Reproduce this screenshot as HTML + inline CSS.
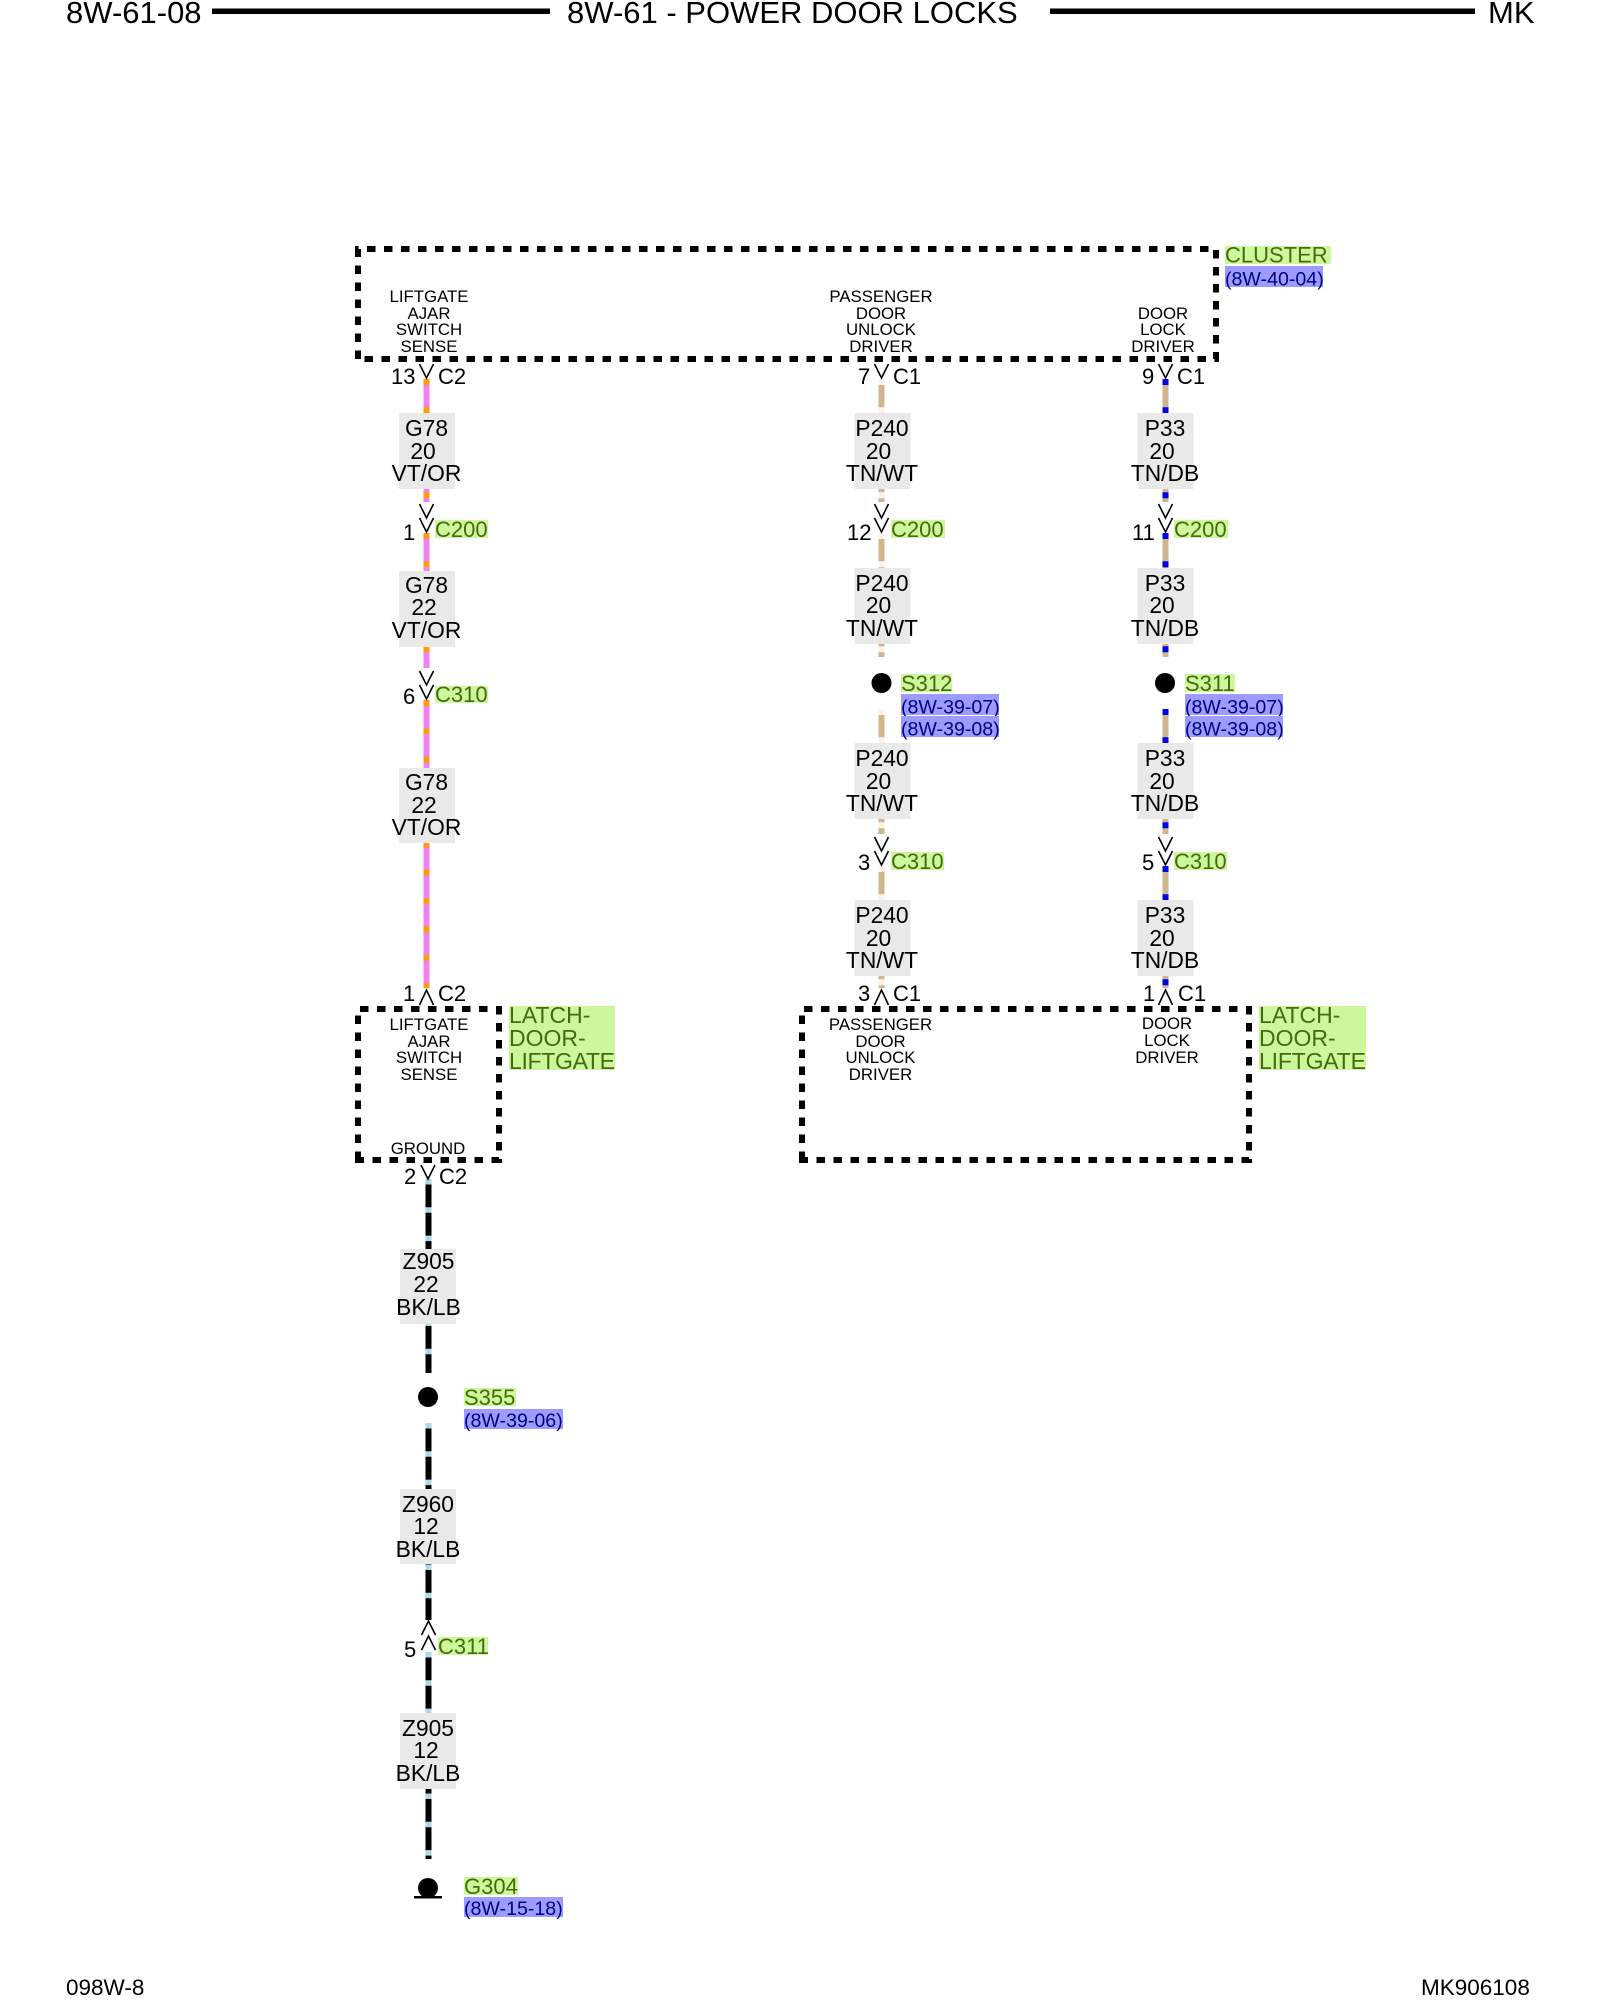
<!DOCTYPE html>
<html lang="en">
<head>
<meta charset="utf-8">
<title>8W-61 - POWER DOOR LOCKS</title>
<style>
html,body{margin:0;padding:0;background:#fff;}
svg{display:block;}
text{font-family:"Liberation Sans",Arial,sans-serif;fill:#000;}
.b{fill:#e9e9e9;}
.w{font-size:22.8px;text-anchor:middle;}
.c{font-size:16.8px;text-anchor:middle;}
.n{font-size:22px;}
.h{font-size:31px;}
.f{font-size:22.5px;}
.g{fill:#ccf79b;}
.r{fill:#9c9cff;}
.gt{font-size:22px;fill:#47690f;}
.lt{font-size:23px;fill:#47690f;}
.rt{font-size:19.6px;fill:#000088;}
.d{fill:none;stroke:#000;stroke-width:6;stroke-dasharray:8.5 8.5;}
.ch{fill:none;stroke:#000;stroke-width:1.6;}
.vt{stroke:#ee82ee;stroke-width:6;}
.vto{stroke:#ff9a10;stroke-width:6;stroke-dasharray:6 22.3;}
.tn{stroke:#d2b48c;stroke-width:6;}
.tnw{stroke:#f8f3ec;stroke-width:6;stroke-dasharray:6 22.3;}
.tnb{stroke:#0000ee;stroke-width:6;stroke-dasharray:6 22.3;}
.bk{stroke:#000;stroke-width:6;}
.bkl{stroke:#add8e6;stroke-width:6;stroke-dasharray:5.5 22.8;}
</style>
</head>
<body>
<svg xmlns="http://www.w3.org/2000/svg" width="1600" height="2000" viewBox="0 0 1600 2000">
<rect width="1600" height="2000" fill="#fff"/>

<!-- header -->
<text class="h" x="66" y="23">8W-61-08</text>
<rect x="212" y="8.5" width="338" height="5.5" fill="#000"/>
<text class="h" x="567" y="23">8W-61 - POWER DOOR LOCKS</text>
<rect x="1050" y="8.5" width="425" height="5.5" fill="#000"/>
<text class="h" x="1488" y="23">MK</text>

<!-- footer -->
<text class="f" x="66" y="1995">098W-8</text>
<text class="f" x="1421" y="1995">MK906108</text>

<!-- component boxes -->
<path class="d" d="M358 359V249H1216V359Z"/>
<path class="d" d="M358 1160V1009H499V1160Z"/>
<path class="d" d="M802 1160V1009H1249V1160Z"/>

<!-- column 1 wires -->
<line class="vt" x1="426.5" y1="379" x2="426.5" y2="502"/>
<line class="vto" x1="426.5" y1="379" x2="426.5" y2="502"/>
<line class="vt" x1="426.5" y1="533" x2="426.5" y2="668"/>
<line class="vto" x1="426.5" y1="533" x2="426.5" y2="668"/>
<line class="vt" x1="426.5" y1="700" x2="426.5" y2="988"/>
<line class="vto" x1="426.5" y1="700" x2="426.5" y2="988"/>

<!-- column 2 wires -->
<line class="tn" x1="881.5" y1="379" x2="881.5" y2="502"/>
<line class="tnw" x1="881.5" y1="379" x2="881.5" y2="502"/>
<line class="tn" x1="881.5" y1="533" x2="881.5" y2="657"/>
<line class="tnw" x1="881.5" y1="533" x2="881.5" y2="657"/>
<line class="tn" x1="881.5" y1="709" x2="881.5" y2="834"/>
<line class="tnw" x1="881.5" y1="709" x2="881.5" y2="834"/>
<line class="tn" x1="881.5" y1="866" x2="881.5" y2="988"/>
<line class="tnw" x1="881.5" y1="866" x2="881.5" y2="988"/>

<!-- column 3 wires -->
<line class="tn" x1="1165.5" y1="379" x2="1165.5" y2="502"/>
<line class="tnb" x1="1165.5" y1="379" x2="1165.5" y2="502"/>
<line class="tn" x1="1165.5" y1="533" x2="1165.5" y2="657"/>
<line class="tnb" x1="1165.5" y1="533" x2="1165.5" y2="657"/>
<line class="tn" x1="1165.5" y1="709" x2="1165.5" y2="834"/>
<line class="tnb" x1="1165.5" y1="709" x2="1165.5" y2="834"/>
<line class="tn" x1="1165.5" y1="866" x2="1165.5" y2="988"/>
<line class="tnb" x1="1165.5" y1="866" x2="1165.5" y2="988"/>

<!-- black wires -->
<line class="bk" x1="428.5" y1="1179" x2="428.5" y2="1373"/>
<line class="bkl" x1="428.5" y1="1179" x2="428.5" y2="1373"/>
<line class="bk" x1="428.5" y1="1423" x2="428.5" y2="1620"/>
<line class="bkl" x1="428.5" y1="1423" x2="428.5" y2="1620"/>
<line class="bk" x1="428.5" y1="1652" x2="428.5" y2="1859"/>
<line class="bkl" x1="428.5" y1="1652" x2="428.5" y2="1859"/>

<!-- wire label boxes -->
<rect class="b" x="399" y="413" width="56" height="76"/>
<rect class="b" x="399" y="571" width="56" height="76"/>
<rect class="b" x="399" y="768" width="56" height="75"/>
<rect class="b" x="854.5" y="413" width="56" height="76"/>
<rect class="b" x="854.5" y="568" width="56" height="76"/>
<rect class="b" x="854.5" y="743" width="56" height="76"/>
<rect class="b" x="854.5" y="900" width="56" height="76"/>
<rect class="b" x="1137.5" y="413" width="56" height="76"/>
<rect class="b" x="1137.5" y="568" width="56" height="76"/>
<rect class="b" x="1137.5" y="743" width="56" height="76"/>
<rect class="b" x="1137.5" y="900" width="56" height="76"/>
<rect class="b" x="400" y="1249" width="56" height="75"/>
<rect class="b" x="400" y="1489" width="56" height="75"/>
<rect class="b" x="400" y="1713" width="56" height="76"/>

<!-- wire labels col 1 -->
<text class="w" x="426.5" y="436">G78</text><text class="w" x="423" y="459">20</text><text class="w" x="426.5" y="481">VT/OR</text>
<text class="w" x="426.5" y="593">G78</text><text class="w" x="424" y="615">22</text><text class="w" x="426.5" y="638">VT/OR</text>
<text class="w" x="426.5" y="790">G78</text><text class="w" x="424" y="813">22</text><text class="w" x="426.5" y="835">VT/OR</text>

<!-- wire labels col 2 -->
<text class="w" x="882" y="436">P240</text><text class="w" x="878.5" y="459">20</text><text class="w" x="882" y="481">TN/WT</text>
<text class="w" x="882" y="591">P240</text><text class="w" x="878.5" y="613">20</text><text class="w" x="882" y="636">TN/WT</text>
<text class="w" x="882" y="766">P240</text><text class="w" x="878.5" y="789">20</text><text class="w" x="882" y="811">TN/WT</text>
<text class="w" x="882" y="923">P240</text><text class="w" x="878.5" y="946">20</text><text class="w" x="882" y="968">TN/WT</text>

<!-- wire labels col 3 -->
<text class="w" x="1165" y="436">P33</text><text class="w" x="1162" y="459">20</text><text class="w" x="1165" y="481">TN/DB</text>
<text class="w" x="1165" y="591">P33</text><text class="w" x="1162" y="613">20</text><text class="w" x="1165" y="636">TN/DB</text>
<text class="w" x="1165" y="766">P33</text><text class="w" x="1162" y="789">20</text><text class="w" x="1165" y="811">TN/DB</text>
<text class="w" x="1165" y="923">P33</text><text class="w" x="1162" y="946">20</text><text class="w" x="1165" y="968">TN/DB</text>

<!-- wire labels bottom -->
<text class="w" x="428.5" y="1269">Z905</text><text class="w" x="426" y="1292">22</text><text class="w" x="428.5" y="1315">BK/LB</text>
<text class="w" x="428" y="1512">Z960</text><text class="w" x="426" y="1534">12</text><text class="w" x="428" y="1557">BK/LB</text>
<text class="w" x="428" y="1736">Z905</text><text class="w" x="426" y="1758">12</text><text class="w" x="428" y="1781">BK/LB</text>

<!-- component text -->
<text class="c" x="429" y="302">LIFTGATE</text><text class="c" x="429" y="319">AJAR</text><text class="c" x="429" y="335">SWITCH</text><text class="c" x="429" y="352">SENSE</text>
<text class="c" x="881" y="302">PASSENGER</text><text class="c" x="881" y="319">DOOR</text><text class="c" x="881" y="335">UNLOCK</text><text class="c" x="881" y="352">DRIVER</text>
<text class="c" x="1163" y="319">DOOR</text><text class="c" x="1163" y="335">LOCK</text><text class="c" x="1163" y="352">DRIVER</text>
<text class="c" x="429" y="1030">LIFTGATE</text><text class="c" x="429" y="1047">AJAR</text><text class="c" x="429" y="1063">SWITCH</text><text class="c" x="429" y="1080">SENSE</text>
<text class="c" x="428" y="1154">GROUND</text>
<text class="c" x="880.5" y="1030">PASSENGER</text><text class="c" x="880.5" y="1047">DOOR</text><text class="c" x="880.5" y="1063">UNLOCK</text><text class="c" x="880.5" y="1080">DRIVER</text>
<text class="c" x="1167" y="1029">DOOR</text><text class="c" x="1167" y="1046">LOCK</text><text class="c" x="1167" y="1063">DRIVER</text>

<!-- chevrons -->
<polyline class="ch" points="419.5,364 426.5,378 433.5,364"/>
<polyline class="ch" points="874.5,364 881.5,378 888.5,364"/>
<polyline class="ch" points="1158.5,364 1165.5,378 1172.5,364"/>
<polyline class="ch" points="419.5,504 426.5,518 433.5,504"/><polyline class="ch" points="419.5,518 426.5,532 433.5,518"/>
<polyline class="ch" points="874.5,504 881.5,518 888.5,504"/><polyline class="ch" points="874.5,518 881.5,532 888.5,518"/>
<polyline class="ch" points="1158.5,504 1165.5,518 1172.5,504"/><polyline class="ch" points="1158.5,518 1165.5,532 1172.5,518"/>
<polyline class="ch" points="419.5,671 426.5,685 433.5,671"/><polyline class="ch" points="419.5,685 426.5,699 433.5,685"/>
<polyline class="ch" points="874.5,837 881.5,851 888.5,837"/><polyline class="ch" points="874.5,851 881.5,865 888.5,851"/>
<polyline class="ch" points="1158.5,837 1165.5,851 1172.5,837"/><polyline class="ch" points="1158.5,851 1165.5,865 1172.5,851"/>
<polyline class="ch" points="419.5,1005 426.5,990 433.5,1005"/>
<polyline class="ch" points="874.5,1005 881.5,990 888.5,1005"/>
<polyline class="ch" points="1158.5,1005 1165.5,990 1172.5,1005"/>
<polyline class="ch" points="421,1165 428,1179 435,1165"/>
<polyline class="ch" points="421.5,1635 428.5,1621 435.5,1635"/><polyline class="ch" points="421.5,1650 428.5,1636 435.5,1650"/>

<!-- connector numbers -->
<text class="n" x="391" y="384">13</text><text class="n" x="438" y="384">C2</text>
<text class="n" x="858" y="384">7</text><text class="n" x="893" y="384">C1</text>
<text class="n" x="1142" y="384">9</text><text class="n" x="1177" y="384">C1</text>
<text class="n" x="403" y="540">1</text>
<text class="n" x="847" y="540">12</text>
<text class="n" x="1132" y="540">11</text>
<text class="n" x="403" y="704">6</text>
<text class="n" x="858" y="870">3</text>
<text class="n" x="1142" y="870">5</text>
<text class="n" x="403" y="1001">1</text><text class="n" x="438" y="1001">C2</text>
<text class="n" x="858" y="1001">3</text><text class="n" x="893" y="1001">C1</text>
<text class="n" x="1143" y="1001">1</text><text class="n" x="1178" y="1001">C1</text>
<text class="n" x="404" y="1184">2</text><text class="n" x="439" y="1184">C2</text>
<text class="n" x="404" y="1657">5</text>

<!-- green connector tags -->
<rect class="g" x="435" y="520" width="53" height="18"/><text class="gt" x="435" y="537">C200</text>
<rect class="g" x="891" y="520" width="54" height="18"/><text class="gt" x="891" y="537">C200</text>
<rect class="g" x="1174" y="520" width="54" height="18"/><text class="gt" x="1174" y="537">C200</text>
<rect class="g" x="435" y="686" width="53" height="17"/><text class="gt" x="435" y="702">C310</text>
<rect class="g" x="891" y="852" width="53" height="18"/><text class="gt" x="891" y="869">C310</text>
<rect class="g" x="1174" y="852" width="53" height="18"/><text class="gt" x="1174" y="869">C310</text>
<rect class="g" x="438" y="1637" width="50" height="18"/><text class="gt" x="438" y="1654">C311</text>

<!-- cluster tag -->
<rect class="g" x="1225" y="246" width="106" height="18"/><text class="gt" x="1225" y="262.5">CLUSTER</text>
<rect class="r" x="1225" y="266" width="98" height="21"/><text class="rt" x="1225" y="285.5">(8W-40-04)</text>

<!-- latch tags -->
<rect class="g" x="509" y="1006" width="106" height="64"/>
<text class="lt" x="509" y="1023">LATCH-</text><text class="lt" x="509" y="1046">DOOR-</text><text class="lt" x="509" y="1069" textLength="106">LIFTGATE</text>
<rect class="g" x="1259" y="1006" width="107" height="64"/>
<text class="lt" x="1259" y="1023">LATCH-</text><text class="lt" x="1259" y="1046">DOOR-</text><text class="lt" x="1259" y="1069" textLength="107">LIFTGATE</text>

<!-- splices -->
<circle cx="881.5" cy="683" r="10" fill="#000"/>
<rect class="g" x="901" y="674" width="51" height="18"/><text class="gt" x="901" y="691">S312</text>
<rect class="r" x="901" y="694" width="98" height="21"/><text class="rt" x="901" y="713.5">(8W-39-07)</text>
<rect class="r" x="901" y="716" width="98" height="21"/><text class="rt" x="901" y="735.5">(8W-39-08)</text>

<circle cx="1165" cy="683" r="10" fill="#000"/>
<rect class="g" x="1185" y="674" width="50" height="18"/><text class="gt" x="1185" y="691">S311</text>
<rect class="r" x="1185" y="694" width="98" height="21"/><text class="rt" x="1185" y="713.5">(8W-39-07)</text>
<rect class="r" x="1185" y="716" width="98" height="21"/><text class="rt" x="1185" y="735.5">(8W-39-08)</text>

<circle cx="428" cy="1397" r="10" fill="#000"/>
<rect class="g" x="464" y="1388" width="52" height="18"/><text class="gt" x="464" y="1405">S355</text>
<rect class="r" x="464" y="1409" width="99" height="20"/><text class="rt" x="464" y="1427">(8W-39-06)</text>

<!-- ground -->
<circle cx="428" cy="1888" r="10" fill="#000"/>
<rect x="414" y="1896" width="28" height="2.5" fill="#000"/>
<rect class="g" x="464" y="1877" width="54" height="18"/><text class="gt" x="464" y="1894">G304</text>
<rect class="r" x="464" y="1897" width="99" height="20"/><text class="rt" x="464" y="1915">(8W-15-18)</text>
</svg>
</body>
</html>
